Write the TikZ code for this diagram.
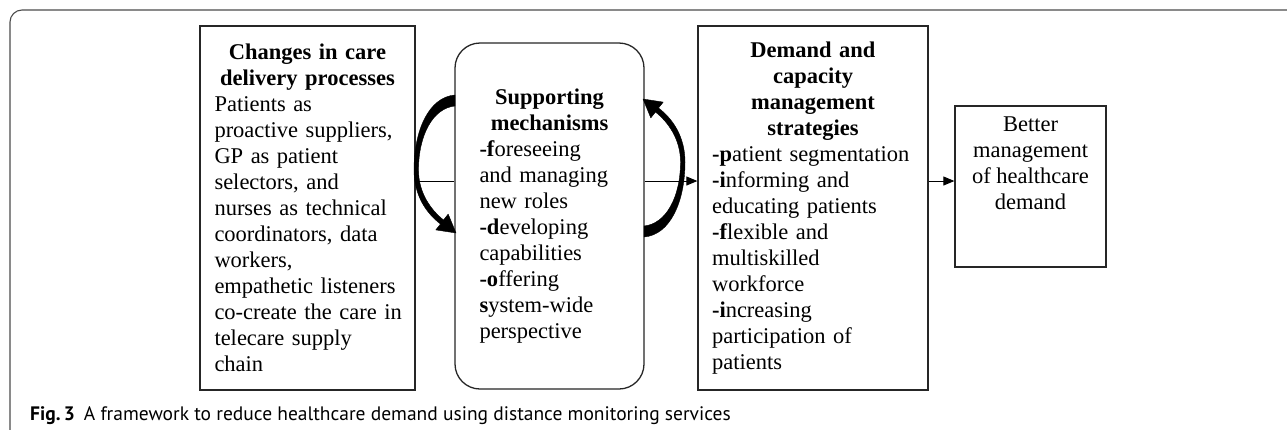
\documentclass[tikz,border=0pt]{standalone}
\usepackage{fontspec}
\setmainfont{Liberation Serif}
\newfontfamily\capfont{PT Sans}
\usetikzlibrary{arrows.meta}
\newcommand\myCurvArrow{(455,95) .. controls (429,97) and (414,130) .. (414,170)
  .. controls (414,195) and (426,213) .. (440.5,224) -- (435.8,229.9) -- (456,233)
  -- (448.2,214.1) -- (443.5,220) .. controls (431,210) and (418.5,193) .. (418.5,170)
  .. controls (418.5,135) and (433,108) .. (455,106) -- cycle}
\begin{document}
\begin{tikzpicture}[x=1pt,y=-1pt,
  box/.style={draw=black!85, line width=1.3pt, fill=white, inner ysep=0pt},
  txt/.style={font=\fontsize{22.5}{26}\selectfont},
  thinline/.style={draw=black, line width=0.9pt},
  thinarrow/.style={thinline, -{Triangle[length=11pt,width=9pt]}},
  bigarrow/.style={fill=black, draw=black, line width=0.4pt, line join=round},
  frame/.style={draw=black!70, line width=1.1pt}
]
\useasboundingbox (0,0) rectangle (1287,429);
\draw[frame, rounded corners=12pt] (1290,10) -- (10,10) -- (10,432);

\node[box, txt, text width=186pt, inner xsep=14.5pt, minimum height=364pt] (chg) at (307.5,208)
{{\centering\bfseries Changes in care\\delivery processes\par}\raggedright
Patients as\\\mbox{proactive suppliers,}\\GP as patient\\selectors, and\\\mbox{nurses as technical}\\\mbox{coordinators, data}\\workers,\\\mbox{empathetic listeners}\\\mbox{co-create the care in}\\telecare supply\\chain};

\node[box, txt, rounded corners=25pt, text width=140pt, inner xsep=24.5pt, minimum height=346pt] (sup) at (549.5,216)
{{\centering\bfseries Supporting\\mechanisms\par}\raggedright
\textbf{-f}oreseeing\\\mbox{and managing}\\new roles\\\textbf{-d}eveloping\\capabilities\\\textbf{-o}ffering\\\textbf{s}ystem-wide\\perspective};

\node[box, txt, text width=202pt, inner xsep=14pt, minimum height=364pt] (dem) at (813,208)
{{\centering\bfseries Demand and\\capacity\\management\\strategies\par}\raggedright
\mbox{\textbf{-p}atient segmentation}\\\textbf{-i}nforming and\\\mbox{educating patients}\\\textbf{-f}lexible and\\multiskilled\\workforce\\\textbf{-i}ncreasing\\participation of\\patients};

\node[box, minimum width=151pt, minimum height=161pt] (better) at (1030.5,186.5) {};
\node[txt, anchor=north, align=center, inner sep=0pt] (betterT) at (1030.5,117)
{Better\\management\\of healthcare\\demand};

\coordinate (mid) at (0,181);
\draw[thinline] (chg.east |- mid) -- (sup.west |- mid);
\draw[thinarrow] (sup.east |- mid) -- (dem.west |- mid);
\draw[thinarrow] (dem.east |- mid) -- (better.west |- mid);

% curved feedback arrows
\path[bigarrow] \myCurvArrow;
\begin{scope}[shift={(1099,332)}, xscale=-1, yscale=-1]
\path[bigarrow] \myCurvArrow;
\end{scope}

\node[anchor=base west, inner sep=0pt, font=\capfont\fontsize{19.5}{23}\selectfont] (cap) at (30,420)
{\textbf{Fig.\,3}\hspace{9pt}A framework to reduce healthcare demand using distance monitoring services};
\end{tikzpicture}
\end{document}
